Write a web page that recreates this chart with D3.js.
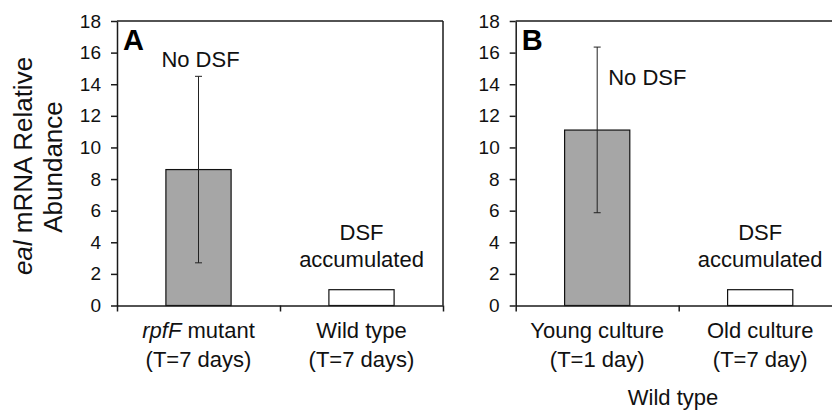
<!DOCTYPE html>
<html lang="en">
<head>
    <meta charset="UTF-8">
    <title>eal mRNA Relative Abundance</title>
    <script src="https://d3js.org/d3.v7.min.js"></script>
    <style>
        body { margin: 0; background: white; }
        svg { display: block; font-family: "Liberation Sans", Arial, sans-serif; }
        .axis path, .axis line { stroke: #1a1a1a; stroke-width: 1.5px; }
        .axis text { font-size: 19px; fill: #111; font-family: "Liberation Sans", Arial, sans-serif; }
    </style>
</head>
<body>
    <svg id="chart"></svg>
    <script>
        // Panel A data
        const catsA = [['rpfF mutant', '(T=7 days)'], ['Wild type', '(T=7 days)']];
        const valuesA = [8.6, 1.0];
        const errLowA = [2.7, null];
        const errHighA = [14.5, null];

        // Panel B data
        const catsB = [['Young culture', '(T=1 day)'], ['Old culture', '(T=7 day)']];
        const valuesB = [11.1, 1.0];
        const errLowB = [5.87, null];
        const errHighB = [16.35, null];

        const barColors = ['#a6a6a6', '#ffffff'];
        const yTicks = [0, 2, 4, 6, 8, 10, 12, 14, 16, 18];

        const width = 832, height = 411;
        const plotTop = 21, plotBottom = 305.5;
        const panelW = 326;

        const svg = d3.select('#chart').attr('width', width).attr('height', height);

        const y = d3.scaleLinear().domain([0, 18]).range([plotBottom, plotTop]);

        function drawPanel(left, letter, cats, values, lo, hi, notes) {
            const g = svg.append('g');
            const x = d3.scaleBand().domain(d3.range(cats.length)).range([left, left + panelW]);
            const xEdges = d3.scaleLinear().domain([0, cats.length]).range([left, left + panelW]);

            // frame: top and right lines
            g.append('line').attr('x1', left).attr('x2', left + panelW)
                .attr('y1', plotTop).attr('y2', plotTop)
                .attr('stroke', '#1a1a1a').attr('stroke-width', 1.5);
            g.append('line').attr('x1', left + panelW).attr('x2', left + panelW)
                .attr('y1', plotTop).attr('y2', plotBottom)
                .attr('stroke', '#1a1a1a').attr('stroke-width', 1.5);

            // bars
            const bw = x.bandwidth() * 0.4;
            g.selectAll('rect.bar').data(values).enter().append('rect')
                .attr('x', (d, i) => x(i) + x.bandwidth() / 2 - bw / 2)
                .attr('y', d => y(d))
                .attr('width', bw)
                .attr('height', d => y(0) - y(d))
                .attr('fill', (d, i) => barColors[i])
                .attr('stroke', '#111')
                .attr('stroke-width', 1.2);

            // error bars
            values.forEach((v, i) => {
                if (lo[i] == null) return;
                const cx = x(i) + x.bandwidth() / 2;
                g.append('line').attr('x1', cx).attr('x2', cx)
                    .attr('y1', y(lo[i])).attr('y2', y(hi[i]))
                    .attr('stroke', '#222').attr('stroke-width', 1);
                [lo[i], hi[i]].forEach(e => {
                    g.append('line').attr('x1', cx - 3.5).attr('x2', cx + 3.5)
                        .attr('y1', y(e)).attr('y2', y(e))
                        .attr('stroke', '#222').attr('stroke-width', 1);
                });
            });

            // y axis
            g.append('g').attr('class', 'axis')
                .attr('transform', `translate(${left},0)`)
                .call(d3.axisLeft(y).tickValues(yTicks).tickSize(6).tickPadding(10).tickSizeOuter(0));

            // x axis (ticks at category boundaries)
            g.append('g').attr('class', 'axis')
                .attr('transform', `translate(0,${plotBottom})`)
                .call(d3.axisBottom(xEdges).tickValues(d3.range(cats.length + 1))
                    .tickSize(6).tickSizeOuter(0).tickFormat(''));

            // category labels
            cats.forEach((c, i) => {
                const cx = x(i) + x.bandwidth() / 2;
                const t1 = g.append('text').attr('x', cx).attr('y', 338)
                    .attr('text-anchor', 'middle').attr('font-size', 22).attr('fill', '#111');
                if (c[0] === 'rpfF mutant') {
                    t1.append('tspan').attr('font-style', 'italic').text('rpfF');
                    t1.append('tspan').text(' mutant');
                } else {
                    t1.text(c[0]);
                }
                g.append('text').attr('x', cx).attr('y', 367)
                    .attr('text-anchor', 'middle').attr('font-size', 22).attr('fill', '#111')
                    .text(c[1]);
            });

            // panel letter
            g.append('text').attr('x', left + 6).attr('y', 50)
                .attr('font-size', 29).attr('font-weight', 'bold').attr('fill', '#000')
                .text(letter);

            // annotations
            notes.forEach(n => {
                g.append('text')
                    .attr('x', x(n.i) + x.bandwidth() / 2 + n.dx)
                    .attr('y', y(n.v))
                    .attr('text-anchor', n.anchor)
                    .attr('font-size', 22).attr('fill', '#111')
                    .text(n.text);
            });
        }

        drawPanel(117, 'A', catsA, valuesA, errLowA, errHighA, [
            { i: 0, v: 15.1, dx: 2, anchor: 'middle', text: 'No DSF' },
            { i: 1, v: 4.15, dx: 0, anchor: 'middle', text: 'DSF' },
            { i: 1, v: 2.45, dx: 0, anchor: 'middle', text: 'accumulated' }
        ]);

        drawPanel(515.7, 'B', catsB, valuesB, errLowB, errHighB, [
            { i: 0, v: 13.95, dx: 11, anchor: 'start', text: 'No DSF' },
            { i: 1, v: 4.15, dx: 0, anchor: 'middle', text: 'DSF' },
            { i: 1, v: 2.45, dx: 0, anchor: 'middle', text: 'accumulated' }
        ]);

        // y-axis title
        const yt = svg.append('text')
            .attr('transform', 'translate(32,166) rotate(-90)')
            .attr('text-anchor', 'middle').attr('font-size', 26).attr('fill', '#111');
        yt.append('tspan').attr('font-style', 'italic').text('eal');
        yt.append('tspan').text(' mRNA Relative');
        svg.append('text')
            .attr('transform', 'translate(62,167) rotate(-90)')
            .attr('text-anchor', 'middle').attr('font-size', 26).attr('fill', '#111')
            .text('Abundance');

        // panel B group label
        svg.append('text').attr('x', 673).attr('y', 405)
            .attr('text-anchor', 'middle').attr('font-size', 22).attr('fill', '#111')
            .text('Wild type');
    </script>
</body>
</html>
